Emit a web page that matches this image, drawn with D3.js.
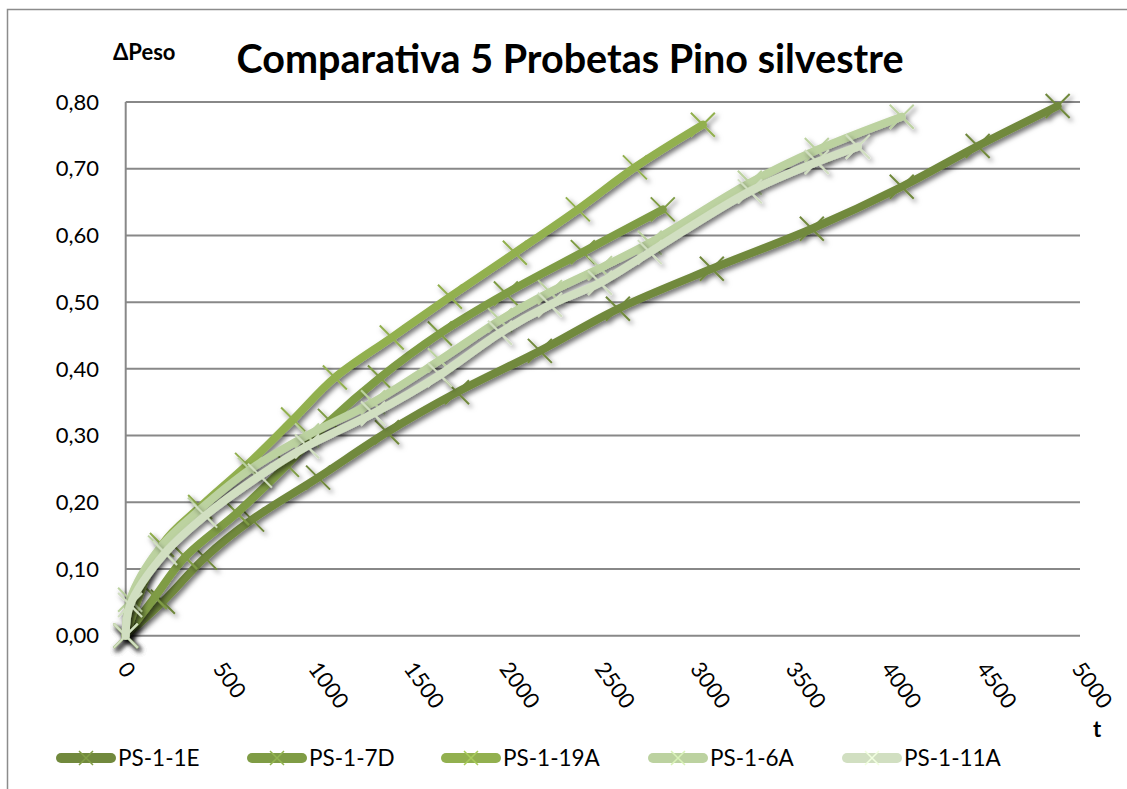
<!DOCTYPE html>
<html>
<head>
<meta charset="utf-8">
<script src="https://cdn.jsdelivr.net/npm/d3@7"></script>
<style>
body { margin: 0; background: #fff; }
svg { display: block; font-family: Lato, "Open Sans", sans-serif; }
</style>
</head>
<body>
<script>
// series (t, ΔPeso)
var names = ["PS-1-1E", "PS-1-7D", "PS-1-19A", "PS-1-6A", "PS-1-11A"];
var colors = ["#71893d", "#7f9c45", "#92b04f", "#bcd2a0", "#d1dfc1"];

var t_1E = [0, 195, 415, 662, 1008, 1369, 1736, 2170, 2579, 3071, 3595, 4066, 4464, 4883];
var p_1E = [0, 0.051, 0.117, 0.174, 0.237, 0.305, 0.365, 0.427, 0.490, 0.550, 0.610, 0.673, 0.734, 0.794];

var t_7D = [0, 153, 311, 583, 845, 1070, 1332, 1646, 1992, 2395, 2814];
var p_7D = [0, 0.058, 0.118, 0.184, 0.256, 0.322, 0.387, 0.453, 0.513, 0.575, 0.639];

var t_19A = [0, 190, 390, 636, 877, 1096, 1394, 1699, 2039, 2369, 2668, 3024];
var p_19A = [0, 0.136, 0.193, 0.256, 0.324, 0.387, 0.447, 0.508, 0.574, 0.639, 0.702, 0.766];

var t_6A = [0, 23, 180, 389, 651, 950, 1296, 1646, 1961, 2223, 2485, 2746, 3270, 3621, 4066];
var p_6A = [0, 0.054, 0.132, 0.189, 0.249, 0.300, 0.350, 0.413, 0.473, 0.515, 0.551, 0.589, 0.679, 0.728, 0.778];

var t_11A = [0, 23, 206, 416, 703, 950, 1296, 1646, 1961, 2223, 2485, 2746, 3270, 3621, 3836];
var p_11A = [0, 0.046, 0.124, 0.180, 0.240, 0.284, 0.333, 0.391, 0.454, 0.496, 0.529, 0.575, 0.666, 0.710, 0.733];

var xTicks = [0, 500, 1000, 1500, 2000, 2500, 3000, 3500, 4000, 4500, 5000];
var yTicks = [0, 0.1, 0.2, 0.3, 0.4, 0.5, 0.6, 0.7, 0.8];

var W = 1127, H = 789;
var plotL = 125.7, plotR = 1080, plotT = 102, plotB = 635.7;

var svg = d3.select("body").append("svg")
    .attr("width", W)
    .attr("height", H);

var defs = svg.append("defs");
var f = defs.append("filter").attr("id", "shadow")
    .attr("x", "-20%").attr("y", "-20%").attr("width", "140%").attr("height", "140%");
f.append("feDropShadow")
    .attr("dx", 2.5).attr("dy", 3)
    .attr("stdDeviation", 2.4)
    .attr("flood-color", "#000")
    .attr("flood-opacity", 0.55);

// outer chart border (runs off the right and bottom of the picture)
svg.append("rect")
    .attr("x", 7.5).attr("y", 9.5)
    .attr("width", 1200).attr("height", 900)
    .attr("fill", "none")
    .attr("stroke", "#8c8c8c")
    .attr("stroke-width", 1.5);

var x = d3.scaleLinear().domain([0, 5000]).range([plotL, plotR]);
var y = d3.scaleLinear().domain([0, 0.8]).range([plotB, plotT]);

// gridlines
svg.append("g").selectAll("line")
    .data(yTicks)
    .enter().append("line")
    .attr("x1", plotL).attr("x2", plotR)
    .attr("y1", function (d) { return y(d); })
    .attr("y2", function (d) { return y(d); })
    .attr("stroke", "#888")
    .attr("stroke-width", 2);

svg.append("line")
    .attr("x1", plotL).attr("x2", plotL)
    .attr("y1", plotT).attr("y2", plotB)
    .attr("stroke", "#888")
    .attr("stroke-width", 2);

// y tick labels
var fmt = function (d) { return d3.format(".2f")(d).replace(".", ","); };
svg.append("g").selectAll("text")
    .data(yTicks)
    .enter().append("text")
    .attr("x", 99)
    .attr("y", function (d) { return y(d); })
    .attr("dy", "0.35em")
    .attr("text-anchor", "end")
    .attr("font-size", 22)
    .attr("fill", "#000")
    .text(fmt);

// x tick labels, rotated
svg.append("g").selectAll("text")
    .data(xTicks)
    .enter().append("text")
    .attr("transform", function (d) { return "translate(" + (x(d) - 9) + ",669) rotate(54)"; })
    .attr("font-size", 22)
    .attr("fill", "#000")
    .text(function (d) { return d; });

// titles
svg.append("text")
    .attr("x", 570).attr("y", 73)
    .attr("text-anchor", "middle")
    .attr("font-size", 39.5)
    .attr("font-weight", "bold")
    .text("Comparativa 5 Probetas Pino silvestre");

svg.append("text")
    .attr("x", 113).attr("y", 60)
    .attr("font-size", 22)
    .attr("font-weight", "bold")
    .text("ΔPeso");

svg.append("text")
    .attr("x", 1097).attr("y", 737)
    .attr("text-anchor", "middle")
    .attr("font-size", 22)
    .attr("font-weight", "bold")
    .text("t");

// series
var allT = [t_1E, t_7D, t_19A, t_6A, t_11A];
var allP = [p_1E, p_7D, p_19A, p_6A, p_11A];
var series = names.map(function (n, i) {
    return {
        name: n,
        color: colors[i],
        values: allT[i].map(function (t, j) { return { t: t, p: allP[i][j] }; })
    };
});

var line = d3.line()
    .x(function (d) { return x(d.t); })
    .y(function (d) { return y(d.p); })
    .curve(d3.curveCatmullRom.alpha(0.5));

function xMark(g, cx, cy, r, color, w) {
    g.append("path")
        .attr("d", "M" + (cx - r) + "," + (cy - r) + "L" + (cx + r) + "," + (cy + r) +
            "M" + (cx - r) + "," + (cy + r) + "L" + (cx + r) + "," + (cy - r))
        .attr("stroke", color)
        .attr("stroke-width", w)
        .attr("fill", "none");
}

var gs = svg.selectAll("g.series")
    .data(series)
    .enter().append("g")
    .attr("class", "series")
    .attr("filter", "url(#shadow)");

gs.append("path")
    .attr("d", function (d) { return line(d.values); })
    .attr("fill", "none")
    .attr("stroke", function (d) { return d.color; })
    .attr("stroke-width", 8)
    .attr("stroke-linecap", "round")
    .attr("stroke-linejoin", "round");

gs.each(function (d) {
    var g = d3.select(this);
    d.values.forEach(function (v) {
        xMark(g, x(v.t), y(v.p), 12, d.color, 2);
    });
});

// legend
var legX = [56, 247, 441, 648, 842];
var leg = svg.selectAll("g.leg")
    .data(series)
    .enter().append("g")
    .attr("class", "leg")
    .attr("transform", function (d, i) { return "translate(" + legX[i] + ",758)"; });

leg.append("line")
    .attr("x1", 5).attr("x2", 55)
    .attr("y1", 0).attr("y2", 0)
    .attr("stroke", function (d) { return d.color; })
    .attr("stroke-width", 10)
    .attr("stroke-linecap", "round");

leg.each(function (d) {
    xMark(d3.select(this), 30, 0, 7, d3.color(d.color).brighter(0.4), 1.5);
});

leg.append("text")
    .attr("x", 62)
    .attr("y", 0)
    .attr("dy", "0.35em")
    .attr("font-size", 22.5)
    .text(function (d) { return d.name; });
</script>
</body>
</html>
